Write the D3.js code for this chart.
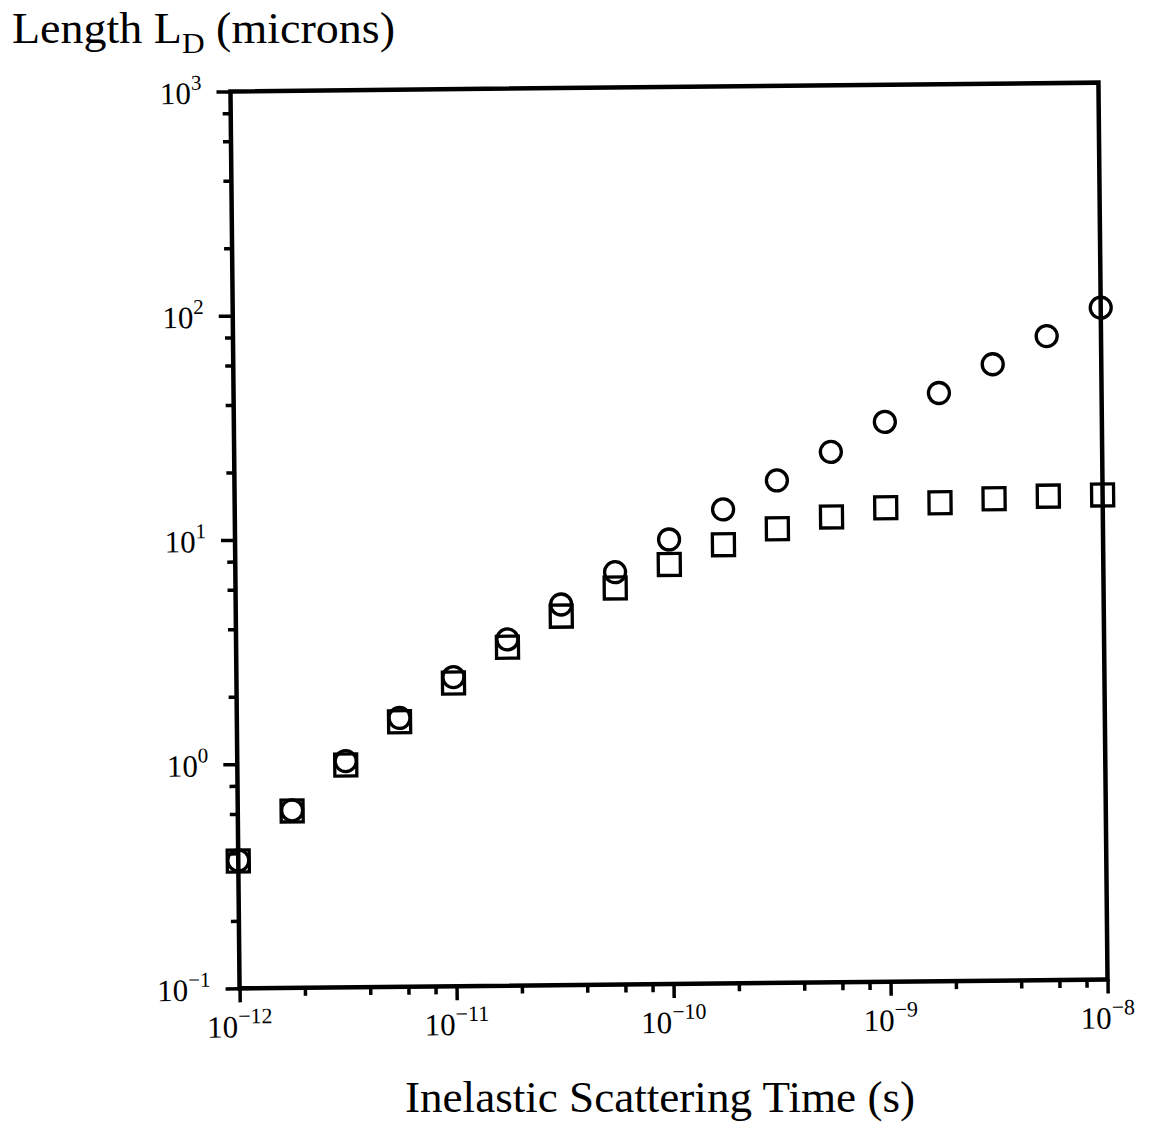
<!DOCTYPE html>
<html>
<head>
<meta charset="utf-8">
<script src="https://cdn.jsdelivr.net/npm/d3@7"></script>
<style>
  body { margin: 0; background: white; }
  text { font-family: "Liberation Serif", "DejaVu Serif", serif; fill: black; }
</style>
</head>
<body>
<div id="vis"></div>
<script>
// inelastic scattering time (s), one point every quarter decade
let times = [1e-12, 1.78e-12, 3.16e-12, 5.62e-12, 1e-11, 1.78e-11, 3.16e-11, 5.62e-11,
  1e-10, 1.78e-10, 3.16e-10, 5.62e-10, 1e-9, 1.78e-9, 3.16e-9, 5.62e-9, 1e-8];

// length L_D (microns)
let circleLengths = [0.372, 0.619, 1.02, 1.58, 2.39, 3.5, 4.98, 6.9,
  9.6, 13.0, 17.4, 23.2, 31.4, 42.0, 56.1, 74.5, 99.2];
let squareLengths = [0.37, 0.615, 0.98, 1.52, 2.25, 3.23, 4.42, 5.87,
  7.43, 9.05, 10.6, 11.9, 13.0, 13.6, 14.1, 14.4, 14.5];

// tick labels
let xMajor = [1e-12, 1e-11, 1e-10, 1e-9, 1e-8];
let xExponents = ['\u221212', '\u221211', '\u221210', '\u22129', '\u22128'];
let yMajor = [0.1, 1, 10, 100, 1000];
let yExponents = ['\u22121', '0', '1', '2', '3'];
let minorSteps = [2, 4, 6, 8];

let width = 1149, height = 1124;
let plot = { left: 235, right: 1103, top: 87, bottom: 984 };

let svg = d3.select('#vis')
  .append('svg')
  .attr('width', width)
  .attr('height', height)
  .style('background-color', 'white');

let x = d3.scaleLog().domain([1e-12, 1e-8]).range([plot.left, plot.right]);
let y = d3.scaleLog().domain([0.1, 1000]).range([plot.bottom, plot.top]);

// the scanned page sits a little tilted
let cx = (plot.left + plot.right) / 2, cy = (plot.top + plot.bottom) / 2;
let g = svg.append('g').attr('transform', `rotate(-0.58 ${cx} ${cy})`);

let minorX = xMajor.slice(0, -1).flatMap(d => minorSteps.map(k => d * k));
let minorY = yMajor.slice(0, -1).flatMap(d => minorSteps.map(k => d * k));

function styleAxis(a) {
  a.select('.domain').remove();
  a.selectAll('line').attr('stroke', 'black').attr('stroke-width', 3.5);
}

// minor + major ticks, pointing out of the box
g.append('g').attr('transform', `translate(0,${plot.bottom})`)
  .call(d3.axisBottom(x).tickValues(minorX).tickSize(8).tickFormat(''))
  .call(styleAxis);
g.append('g').attr('transform', `translate(0,${plot.bottom})`)
  .call(d3.axisBottom(x).tickValues(xMajor).tickSize(14).tickFormat(''))
  .call(styleAxis);
g.append('g').attr('transform', `translate(${plot.left},0)`)
  .call(d3.axisLeft(y).tickValues(minorY).tickSize(8).tickFormat(''))
  .call(styleAxis);
g.append('g').attr('transform', `translate(${plot.left},0)`)
  .call(d3.axisLeft(y).tickValues(yMajor).tickSize(14).tickFormat(''))
  .call(styleAxis);

// frame
g.append('rect')
  .attr('x', plot.left)
  .attr('y', plot.top)
  .attr('width', plot.right - plot.left)
  .attr('height', plot.bottom - plot.top)
  .attr('fill', 'none')
  .attr('stroke', 'black')
  .attr('stroke-width', 4.5);

// tick labels as powers of ten
xMajor.forEach((d, i) => {
  let t = g.append('text')
    .attr('x', x(d))
    .attr('y', plot.bottom + 49)
    .attr('text-anchor', 'middle')
    .attr('font-size', 31);
  t.append('tspan').text('10');
  t.append('tspan').attr('dy', -14).attr('font-size', 22).text(xExponents[i]);
});
yMajor.forEach((d, i) => {
  let t = g.append('text')
    .attr('x', plot.left - 29)
    .attr('y', y(d) + 12)
    .attr('text-anchor', 'end')
    .attr('font-size', 31);
  t.append('tspan').text('10');
  t.append('tspan').attr('dy', -14).attr('font-size', 21).text(yExponents[i]);
});

// data: squares and circles, both hollow
g.selectAll('.sq')
  .data(times)
  .enter().append('rect')
  .attr('class', 'sq')
  .attr('x', (d, i) => x(d) - 11)
  .attr('y', (d, i) => y(squareLengths[i]) - 11)
  .attr('width', 22)
  .attr('height', 22)
  .attr('fill', 'none')
  .attr('stroke', 'black')
  .attr('stroke-width', 3.3);

g.selectAll('.circ')
  .data(times)
  .enter().append('circle')
  .attr('class', 'circ')
  .attr('cx', d => x(d))
  .attr('cy', (d, i) => y(circleLengths[i]))
  .attr('r', 10.5)
  .attr('fill', 'none')
  .attr('stroke', 'black')
  .attr('stroke-width', 3.3);

// axis titles
let title = svg.append('text')
  .attr('x', 12)
  .attr('y', 43)
  .attr('font-size', 44)
  .attr('textLength', 383)
  .attr('lengthAdjust', 'spacingAndGlyphs');
title.append('tspan').text('Length L');
title.append('tspan').attr('dy', 10).attr('font-size', 30).text('D');
title.append('tspan').attr('dy', -10).text(' (microns)');

svg.append('text')
  .attr('x', 405)
  .attr('y', 1112)
  .attr('font-size', 44)
  .attr('textLength', 510)
  .attr('lengthAdjust', 'spacingAndGlyphs')
  .text('Inelastic Scattering Time (s)');
</script>
</body>
</html>
